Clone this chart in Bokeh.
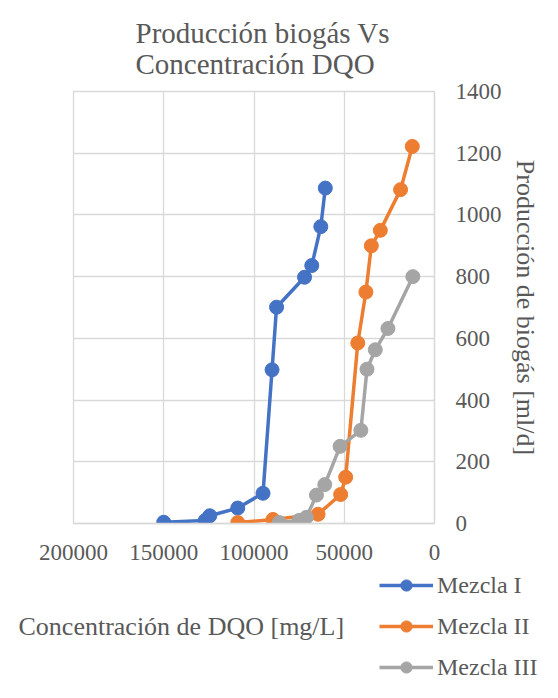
from bokeh.plotting import figure
from bokeh.layouts import column
from bokeh.models import (Range1d, FixedTicker, BasicTickFormatter, Legend,
                          LegendItem, Label)
from bokeh.embed import file_html
from bokeh.resources import INLINE

# ---- data ----
mezcla1_dqo = [150000, 127000, 124500, 109000, 95000, 90000, 87500, 72000, 68000, 63000, 60500]
mezcla1_gas = [4, 10, 25, 50, 98, 498, 701, 798, 836, 962, 1087]

mezcla2_dqo = [109000, 89500, 64500, 52000, 49200, 42500, 38000, 35000, 30000, 18800, 12300]
mezcla2_gas = [3, 13, 30, 94, 150, 585, 750, 900, 950, 1082, 1222]

mezcla3_dqo = [86000, 75000, 71000, 65400, 60800, 52300, 40800, 37400, 32800, 25800, 12000]
mezcla3_gas = [3, 10, 20, 92, 126, 250, 302, 500, 563, 632, 800]

series_names = ["Mezcla I", "Mezcla II", "Mezcla III"]
x_ticks = [0, 50000, 100000, 150000, 200000]
y_ticks = [0, 200, 400, 600, 800, 1000, 1200, 1400]

title_text = "Producción biogás Vs\nConcentración DQO"
x_title = "Concentración de DQO [mg/L]"
y_title = "Producción de biogás [ml/d]"

colors = ["#4472C4", "#ED7D31", "#A5A5A5"]
FONT = "Liberation Serif"
TXT = "#595959"
GRID = "#d9d9d9"

series = [(mezcla1_dqo, mezcla1_gas), (mezcla2_dqo, mezcla2_gas),
          (mezcla3_dqo, mezcla3_gas)]

W = 542
H_MAIN = 571
H_FOOT = 111

# ---------------- main chart ----------------
p = figure(width=W, height=H_MAIN,
           x_range=Range1d(200000, 0), y_range=Range1d(0, 1400),
           y_axis_location="right",
           output_backend="svg", toolbar_location=None,
           min_border_left=73, min_border_right=107,
           min_border_top=91, min_border_bottom=48)

p.outline_line_color = GRID
p.outline_line_width = 1.3
p.background_fill_color = "white"
p.border_fill_color = "white"

p.title.text = title_text
p.title.align = "left"
p.title.vertical_align = "top"
p.title.offset = 62
p.title.text_font = FONT
p.title.text_font_size = "29px"
p.title.text_font_style = "normal"
p.title.text_color = TXT
p.title.text_line_height = 0.97
p.title.standoff = 20

for g in (p.xgrid, p.ygrid):
    g.grid_line_color = GRID
    g.grid_line_width = 1.3
p.xgrid.ticker = FixedTicker(ticks=x_ticks)
p.ygrid.ticker = FixedTicker(ticks=y_ticks)

p.xaxis.ticker = FixedTicker(ticks=x_ticks)
p.xaxis.formatter = BasicTickFormatter(use_scientific=False)
p.yaxis.ticker = FixedTicker(ticks=y_ticks)
for ax in (p.xaxis, p.yaxis):
    ax.axis_line_color = GRID
    ax.axis_line_width = 1.3
    ax.major_tick_line_color = None
    ax.minor_tick_line_color = None
    ax.major_tick_out = 0
    ax.major_tick_in = 0
    ax.major_label_text_font = FONT
    ax.major_label_text_font_size = "23px"
    ax.major_label_text_color = TXT
p.xaxis.major_label_standoff = 21
p.yaxis.major_label_standoff = 21
p.yaxis.axis_label = y_title
p.yaxis.axis_label_text_font = FONT
p.yaxis.axis_label_text_font_size = "26px"
p.yaxis.axis_label_text_font_style = "normal"
p.yaxis.axis_label_text_color = TXT
p.yaxis.axis_label_standoff = 6

for (xs, ys), c in zip(series, colors):
    p.line(xs, ys, line_color=c, line_width=3.5)
    p.scatter(xs, ys, size=14, fill_color=c, line_color=c)

# ---------------- footer: x-axis title + legend ----------------
f = figure(width=W, height=H_FOOT,
           x_range=Range1d(0, W), y_range=Range1d(H_FOOT, 0),
           x_axis_location=None, y_axis_location=None,
           output_backend="svg", toolbar_location=None,
           min_border=0)
f.outline_line_color = None
f.xgrid.visible = False
f.ygrid.visible = False
f.background_fill_color = "white"
f.border_fill_color = "white"
for fig in (p, f):
    if "frame_align" in fig.properties():
        fig.frame_align = False

# legend renderers: the same series (they fall outside this strip's ranges,
# so only their legend glyphs are visible)
items = []
for name, (xs, ys), c in zip(series_names, series, colors):
    lr = f.line(xs, ys, line_color=c, line_width=3.5)
    sr = f.scatter(xs, ys, size=14, fill_color=c, line_color=c)
    items.append(LegendItem(label=name, renderers=[lr, sr]))

legend = Legend(items=items, location=(379, 1), orientation="vertical",
                glyph_width=54, glyph_height=28, spacing=13,
                padding=0, margin=0, label_standoff=4,
                border_line_color=None, background_fill_alpha=0,
                label_text_font=FONT, label_text_font_size="24px",
                label_text_color=TXT)
f.add_layout(legend)

f.add_layout(Label(x=18, y=55, text=x_title, text_align="left",
                   text_baseline="middle", text_font=FONT,
                   text_font_size="26px", text_color=TXT))

layout = column(p, f, spacing=0)
open("out.html", "w").write(file_html(layout, INLINE))
